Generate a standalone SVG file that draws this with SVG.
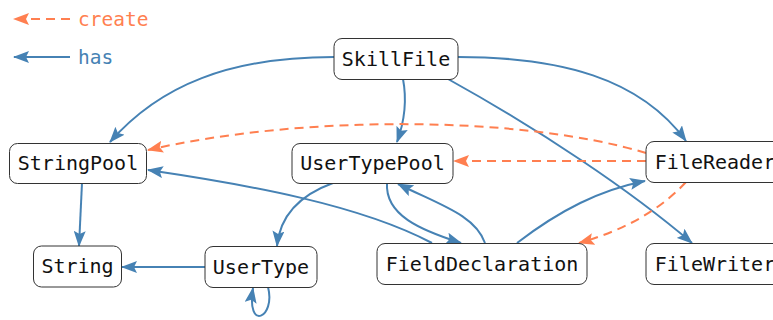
<svg xmlns="http://www.w3.org/2000/svg" width="773" height="320" viewBox="0 0 773 320">
  <style>
    .node rect { fill: #ffffff; stroke: #333333; stroke-width: 1; }
    .node text { font-family: "DejaVu Sans Mono", monospace; font-size: 20px; fill: #111111; text-anchor: middle; }
    .has { fill: none; stroke: #4682b4; stroke-width: 2; marker-end: url(#ah-has); }
    .create { fill: none; stroke: #ff7f50; stroke-width: 2; stroke-dasharray: 9 6; marker-end: url(#ah-create); }
    .legend { font-family: "DejaVu Sans Mono", monospace; font-size: 19.5px; }
  </style>
  <defs>
    <marker id="ah-has" viewBox="0 0 16 12" refX="15" refY="6" markerWidth="16" markerHeight="12" markerUnits="userSpaceOnUse" orient="auto">
      <path d="M0,0 L16,6 L0,12 L3,6 z" fill="#4682b4"/>
    </marker>
    <marker id="ah-create" viewBox="0 0 16 12" refX="15" refY="6" markerWidth="16" markerHeight="12" markerUnits="userSpaceOnUse" orient="auto">
      <path d="M0,0 L16,6 L0,12 L3,6 z" fill="#ff7f50"/>
    </marker>
  </defs>

  <!-- legend -->
  <g id="legend">
    <path class="create" d="M70,19 L14,19"/>
    <text class="legend" x="78" y="26" fill="#ff7f50">create</text>
    <path class="has" d="M70,57 L14,57"/>
    <text class="legend" x="78" y="64" fill="#4682b4">has</text>
  </g>

  <!-- connectors -->
  <g id="edges">
    <path class="has" d="M334,57 C 230,57 160,85 110,142"/>
    <path class="has" d="M403,79 C 407,100 405,120 397,142"/>
    <path class="has" d="M458,57 C 560,57 640,78 686,141"/>
    <path class="has" d="M448,79 C 540,130 630,190 692,243"/>
    <path class="create" d="M646,153 C 520,115 300,115 148,150"/>
    <path class="create" d="M646,161 L454,161"/>
    <path class="create" d="M686,182 C 660,210 625,230 579,243"/>
    <path class="has" d="M82,183 L79,246"/>
    <path class="has" d="M205,267 L122,267"/>
    <path class="has" d="M333,183 C 300,195 280,215 277,246"/>
    <path class="has" d="M387,183 C 385,215 420,230 461,243"/>
    <path class="has" d="M485,243 C 475,215 440,205 398,184"/>
    <path class="has" d="M432,243 C 360,205 250,185 148,170"/>
    <path class="has" d="M517,243 C 560,210 600,190 645,181"/>
    <path class="has" d="M268,287 C 276,318 246,332 253,288"/>
  </g>

  <!-- nodes -->
  <g id="SkillFile" class="node">
    <rect x="334" y="38.5" width="124" height="41" rx="8"/>
    <text x="396" y="66">SkillFile</text>
  </g>
  <g id="StringPool" class="node">
    <rect x="9.5" y="143.5" width="137" height="40" rx="8"/>
    <text x="78" y="170">StringPool</text>
  </g>
  <g id="UserTypePool" class="node">
    <rect x="292" y="143.5" width="161" height="40" rx="8"/>
    <text x="372.5" y="170">UserTypePool</text>
  </g>
  <g id="FileReader" class="node">
    <rect x="646" y="141.5" width="138" height="41" rx="8"/>
    <text x="715" y="168.5">FileReader</text>
  </g>
  <g id="String" class="node">
    <rect x="33.5" y="246" width="88" height="41" rx="8"/>
    <text x="77.5" y="273">String</text>
  </g>
  <g id="UserType" class="node">
    <rect x="205" y="246.5" width="112" height="41" rx="8"/>
    <text x="261" y="273.5">UserType</text>
  </g>
  <g id="FieldDeclaration" class="node">
    <rect x="377" y="243.5" width="210" height="41" rx="8"/>
    <text x="482" y="270.5">FieldDeclaration</text>
  </g>
  <g id="FileWriter" class="node">
    <rect x="646" y="243.5" width="138" height="41" rx="8"/>
    <text x="715" y="270.5">FileWriter</text>
  </g>
</svg>
